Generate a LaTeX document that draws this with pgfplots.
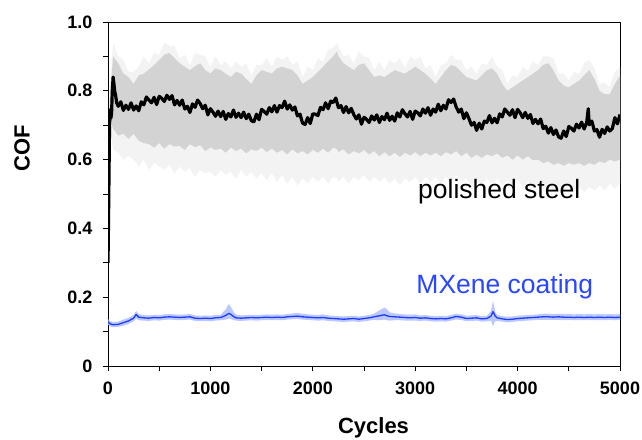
\documentclass[border=0pt]{standalone}
\usepackage{pgfplots}
\usepackage{pgfplotstable}
\pgfplotsset{compat=1.18}
\usepgfplotslibrary{fillbetween}
\usepackage{fontspec}
\setmainfont{Liberation Sans}
\definecolor{blueline}{RGB}{30,60,250}
\definecolor{bluetext}{RGB}{40,70,255}
\definecolor{blueband}{RGB}{170,185,255}
\definecolor{bandc}{RGB}{211,211,211}
\definecolor{fringec}{RGB}{243,243,243}

\pgfplotstableread{
x y
0 0.30
5 0.42
10 0.56
15 0.70
20 0.745
28 0.72
35 0.735
42 0.80
50 0.84
58 0.82
65 0.80
75 0.785
85 0.765
100 0.755
125 0.768
150 0.743
175 0.758
200 0.746
225 0.765
250 0.744
275 0.756
300 0.742
325 0.768
350 0.759
375 0.782
400 0.773
425 0.765
450 0.781
475 0.760
500 0.784
525 0.778
550 0.769
575 0.787
600 0.775
625 0.786
650 0.759
675 0.772
700 0.758
725 0.773
750 0.747
775 0.755
800 0.737
825 0.762
850 0.752
875 0.773
900 0.763
925 0.748
950 0.758
975 0.730
1000 0.748
1025 0.738
1050 0.726
1075 0.741
1100 0.725
1125 0.740
1150 0.717
1175 0.734
1200 0.724
1225 0.744
1250 0.723
1275 0.735
1300 0.722
1325 0.738
1350 0.719
1375 0.732
1400 0.713
1425 0.710
1450 0.732
1475 0.716
1500 0.746
1525 0.740
1550 0.732
1575 0.751
1600 0.739
1625 0.757
1650 0.738
1675 0.757
1700 0.751
1725 0.770
1750 0.747
1775 0.759
1800 0.744
1825 0.753
1850 0.727
1875 0.732
1900 0.706
1925 0.702
1950 0.722
1975 0.705
2000 0.733
2025 0.732
2050 0.728
2075 0.752
2100 0.745
2125 0.765
2150 0.748
2175 0.770
2200 0.766
2225 0.779
2250 0.751
2275 0.757
2300 0.737
2325 0.754
2350 0.736
2375 0.749
2400 0.731
2425 0.718
2450 0.730
2475 0.703
2500 0.723
2525 0.717
2550 0.708
2575 0.727
2600 0.715
2625 0.730
2650 0.708
2675 0.725
2700 0.716
2725 0.735
2750 0.714
2775 0.726
2800 0.712
2825 0.736
2850 0.724
2875 0.745
2900 0.733
2925 0.724
2950 0.740
2975 0.717
3000 0.741
3025 0.736
3050 0.727
3075 0.747
3100 0.735
3125 0.751
3150 0.729
3175 0.747
3200 0.738
3225 0.761
3250 0.742
3275 0.758
3300 0.747
3325 0.774
3350 0.766
3375 0.776
3400 0.753
3425 0.738
3450 0.747
3475 0.719
3500 0.736
3525 0.719
3550 0.700
3575 0.708
3600 0.685
3625 0.706
3650 0.689
3675 0.712
3700 0.708
3725 0.728
3750 0.707
3775 0.720
3800 0.707
3825 0.733
3850 0.724
3875 0.747
3900 0.738
3925 0.729
3950 0.745
3975 0.722
4000 0.746
4025 0.736
4050 0.722
4075 0.737
4100 0.720
4125 0.731
4150 0.705
4175 0.717
4200 0.704
4225 0.718
4250 0.690
4275 0.697
4300 0.677
4325 0.693
4350 0.673
4375 0.686
4400 0.666
4425 0.662
4450 0.683
4475 0.667
4500 0.696
4525 0.691
4550 0.683
4575 0.703
4600 0.692
4625 0.709
4650 0.689
4675 0.708
4690 0.748
4700 0.701
4725 0.712
4750 0.683
4775 0.687
4800 0.665
4825 0.688
4850 0.676
4875 0.695
4900 0.683
4925 0.690
4950 0.722
4975 0.704
5000 0.731
}\steel

\pgfplotstableread{
x lof lo up upf
15 0.70 0.72 0.77 0.79
50 0.63 0.69 0.90 0.94
100 0.62 0.67 0.88 0.90
150 0.60 0.675 0.85 0.89
200 0.61 0.66 0.84 0.855
250 0.60 0.675 0.82 0.855
300 0.58 0.655 0.845 0.87
350 0.60 0.648 0.85 0.90
400 0.57 0.645 0.862 0.88
450 0.59 0.635 0.875 0.91
500 0.58 0.648 0.89 0.905
550 0.57 0.632 0.905 0.94
600 0.585 0.645 0.91 0.93
650 0.56 0.638 0.895 0.93
700 0.58 0.64 0.88 0.895
750 0.565 0.628 0.87 0.905
800 0.575 0.645 0.86 0.875
850 0.55 0.636 0.872 0.91
900 0.57 0.642 0.88 0.905
950 0.56 0.625 0.86 0.90
1000 0.565 0.635 0.85 0.87
1050 0.55 0.628 0.865 0.90
1100 0.57 0.632 0.86 0.875
1150 0.555 0.62 0.85 0.885
1200 0.565 0.635 0.84 0.865
1250 0.545 0.625 0.855 0.885
1300 0.57 0.632 0.85 0.87
1350 0.55 0.618 0.835 0.88
1400 0.565 0.63 0.82 0.845
1450 0.545 0.625 0.845 0.875
1500 0.56 0.635 0.86 0.875
1550 0.54 0.622 0.855 0.895
1600 0.56 0.632 0.85 0.87
1650 0.535 0.62 0.865 0.90
1700 0.555 0.628 0.87 0.89
1750 0.53 0.615 0.865 0.90
1800 0.55 0.63 0.86 0.875
1850 0.525 0.618 0.845 0.885
1900 0.545 0.625 0.82 0.84
1950 0.53 0.615 0.83 0.87
2000 0.55 0.628 0.84 0.86
2050 0.535 0.62 0.855 0.895
2100 0.55 0.632 0.87 0.885
2150 0.53 0.62 0.885 0.92
2200 0.55 0.635 0.90 0.925
2236 0.545 0.63 0.915 0.94
2250 0.535 0.622 0.90 0.93
2300 0.55 0.63 0.88 0.90
2350 0.53 0.615 0.87 0.905
2400 0.55 0.625 0.86 0.88
2450 0.54 0.618 0.875 0.915
2500 0.555 0.628 0.88 0.90
2550 0.535 0.615 0.86 0.895
2600 0.55 0.625 0.84 0.86
2650 0.535 0.61 0.845 0.885
2700 0.55 0.622 0.84 0.86
2750 0.53 0.61 0.85 0.89
2800 0.545 0.62 0.86 0.88
2850 0.525 0.608 0.855 0.895
2900 0.545 0.62 0.85 0.865
2950 0.535 0.612 0.86 0.90
3000 0.55 0.622 0.87 0.89
3050 0.53 0.61 0.86 0.90
3100 0.55 0.62 0.85 0.865
3150 0.535 0.612 0.835 0.875
3200 0.55 0.62 0.82 0.84
3250 0.53 0.61 0.84 0.875
3300 0.55 0.622 0.86 0.88
3350 0.535 0.615 0.875 0.905
3400 0.555 0.625 0.87 0.89
3450 0.535 0.61 0.855 0.89
3500 0.545 0.62 0.84 0.86
3550 0.525 0.605 0.835 0.87
3600 0.54 0.615 0.83 0.85
3650 0.525 0.605 0.845 0.88
3700 0.545 0.615 0.86 0.875
3750 0.53 0.61 0.865 0.90
3800 0.545 0.618 0.85 0.87
3850 0.525 0.605 0.82 0.86
3900 0.54 0.612 0.80 0.82
3950 0.525 0.60 0.81 0.845
4000 0.54 0.612 0.82 0.84
4050 0.52 0.60 0.83 0.87
4100 0.535 0.61 0.84 0.86
4150 0.52 0.598 0.85 0.885
4200 0.53 0.60 0.86 0.875
4250 0.515 0.59 0.875 0.90
4300 0.525 0.595 0.88 0.90
4350 0.51 0.585 0.86 0.895
4400 0.525 0.59 0.83 0.85
4450 0.51 0.582 0.815 0.85
4500 0.525 0.59 0.81 0.83
4550 0.505 0.585 0.82 0.855
4600 0.52 0.59 0.83 0.85
4650 0.505 0.582 0.845 0.88
4700 0.52 0.59 0.86 0.89
4750 0.51 0.585 0.835 0.865
4800 0.525 0.595 0.80 0.82
4850 0.51 0.59 0.79 0.825
4900 0.53 0.60 0.79 0.81
4950 0.515 0.595 0.82 0.855
5000 0.53 0.60 0.845 0.87
}\band

\pgfplotstableread{
x y lo up
0 0.128 0.120 0.136
25 0.122 0.115 0.130
50 0.120 0.113 0.128
100 0.121 0.114 0.129
150 0.126 0.117 0.135
200 0.131 0.122 0.140
250 0.139 0.130 0.148
275 0.150 0.138 0.160
300 0.142 0.133 0.151
350 0.140 0.132 0.148
400 0.139 0.131 0.147
450 0.141 0.133 0.149
500 0.140 0.132 0.148
550 0.142 0.134 0.150
600 0.143 0.135 0.151
650 0.142 0.134 0.150
700 0.141 0.133 0.149
750 0.142 0.134 0.150
800 0.143 0.135 0.151
850 0.139 0.131 0.147
900 0.138 0.130 0.146
950 0.139 0.131 0.147
1000 0.138 0.130 0.146
1050 0.140 0.132 0.148
1100 0.141 0.133 0.149
1150 0.147 0.135 0.165
1180 0.153 0.138 0.180
1200 0.150 0.137 0.172
1230 0.143 0.133 0.155
1250 0.140 0.132 0.149
1300 0.139 0.131 0.147
1350 0.140 0.132 0.148
1400 0.141 0.133 0.149
1450 0.140 0.132 0.148
1500 0.141 0.133 0.149
1550 0.142 0.134 0.150
1600 0.141 0.133 0.149
1650 0.142 0.134 0.150
1700 0.141 0.133 0.149
1750 0.143 0.135 0.151
1800 0.144 0.136 0.153
1850 0.145 0.137 0.154
1900 0.143 0.135 0.152
1950 0.142 0.134 0.150
2000 0.141 0.133 0.149
2050 0.140 0.132 0.148
2100 0.141 0.133 0.150
2150 0.139 0.131 0.147
2200 0.138 0.130 0.146
2250 0.137 0.129 0.145
2300 0.136 0.128 0.144
2350 0.137 0.129 0.145
2400 0.138 0.130 0.146
2450 0.136 0.128 0.144
2500 0.138 0.130 0.146
2550 0.140 0.132 0.148
2600 0.143 0.134 0.152
2650 0.146 0.133 0.162
2700 0.149 0.135 0.170
2725 0.146 0.133 0.165
2750 0.144 0.132 0.156
2800 0.143 0.133 0.153
2850 0.142 0.133 0.151
2900 0.141 0.132 0.150
2950 0.140 0.132 0.149
3000 0.141 0.132 0.150
3050 0.139 0.131 0.147
3100 0.140 0.132 0.148
3150 0.138 0.130 0.146
3200 0.137 0.129 0.145
3250 0.138 0.130 0.146
3300 0.137 0.129 0.145
3350 0.140 0.132 0.148
3400 0.144 0.135 0.152
3450 0.142 0.134 0.150
3500 0.138 0.130 0.146
3550 0.139 0.131 0.147
3600 0.140 0.132 0.148
3650 0.137 0.129 0.145
3700 0.138 0.130 0.146
3740 0.145 0.132 0.160
3760 0.158 0.115 0.190
3780 0.146 0.130 0.158
3800 0.140 0.131 0.148
3850 0.137 0.129 0.145
3900 0.135 0.127 0.143
3950 0.136 0.128 0.144
4000 0.138 0.130 0.146
4050 0.139 0.131 0.147
4100 0.140 0.132 0.148
4150 0.141 0.133 0.149
4200 0.142 0.134 0.150
4250 0.143 0.134 0.152
4300 0.143 0.134 0.152
4350 0.142 0.134 0.151
4400 0.143 0.134 0.152
4450 0.142 0.133 0.151
4500 0.142 0.134 0.151
4550 0.141 0.133 0.150
4600 0.142 0.133 0.151
4650 0.141 0.133 0.150
4700 0.142 0.134 0.151
4750 0.141 0.133 0.150
4800 0.142 0.133 0.151
4850 0.141 0.133 0.150
4900 0.142 0.134 0.151
4950 0.141 0.133 0.150
5000 0.142 0.134 0.151
}\mxene

\begin{document}
\begin{tikzpicture}
\begin{axis}[
  at={(0,0)}, anchor=south west,
  scale only axis, width=512pt, height=344pt,
  xmin=0, xmax=5000, ymin=0, ymax=1,
  xtick={0,1000,2000,3000,4000,5000},
  xticklabels={0,1000,2000,3000,4000,5000},
  ytick={0,0.2,0.4,0.6,0.8,1},
  yticklabels={0,0.2,0.4,0.6,0.8,1.0},
  minor x tick num=1, minor y tick num=1,
  tick align=outside, xtick pos=left, ytick pos=left,
  major tick length=5pt, minor tick length=5pt,
  tick style={black, line width=0.9pt},
  axis line style={black, line width=0.9pt},
  ticklabel style={font=\fontsize{18}{20}\selectfont\bfseries},
  xticklabel style={yshift=-7pt},
  yticklabel style={xshift=-7pt},
  xlabel={Cycles}, ylabel={COF},
  label style={font=\fontsize{22}{24}\selectfont\bfseries},
  xlabel style={at={(axis description cs:0.5186,-0.196)}, anchor=base},
  ylabel style={at={(axis description cs:-0.168,0.634)}, anchor=center},
  no markers,
]
\addplot[draw=none, name path=uf] table[x=x,y=upf]{\band};
\addplot[draw=none, name path=lf] table[x=x,y=lof]{\band};
\addplot[fill=fringec, draw=none] fill between[of=uf and lf];
\addplot[draw=none, name path=us] table[x=x,y=up]{\band};
\addplot[draw=none, name path=ls] table[x=x,y=lo]{\band};
\addplot[fill=bandc, draw=none] fill between[of=us and ls];
\addplot[black, line width=3.2pt, line join=round] table[x=x,y=y]{\steel};
\addplot[draw=none, name path=bu] table[x=x,y=up]{\mxene};
\addplot[draw=none, name path=bl] table[x=x,y=lo]{\mxene};
\addplot[fill=blueband, fill opacity=0.8, draw=none] fill between[of=bu and bl];
\addplot[blueline, line width=1.3pt, line join=round] table[x=x,y=y]{\mxene};
\node[anchor=base west, inner sep=0pt, font=\fontsize{26.5}{28}\selectfont] at (axis cs:3027,0.488) {polished steel};
\node[anchor=base west, inner sep=0pt, text=bluetext, font=\fontsize{26.5}{28}\selectfont] at (axis cs:3010,0.212) {MXene coating};
\end{axis}
\pgfresetboundingbox
\path[use as bounding box] (-108pt,-73pt) rectangle (534pt,366pt);
\end{tikzpicture}
\end{document}
